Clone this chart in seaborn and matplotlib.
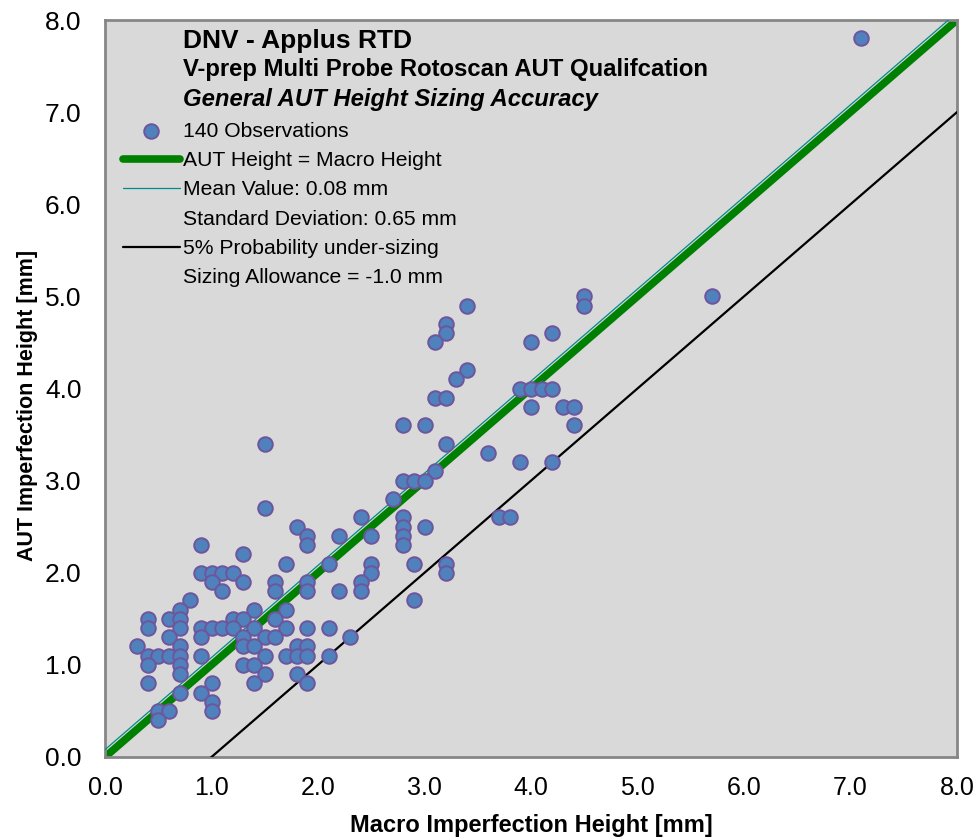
import numpy as np
import pandas as pd
import matplotlib
matplotlib.use("Agg")
import matplotlib.pyplot as plt
from matplotlib import font_manager
from matplotlib.lines import Line2D
import seaborn as sns

# Measured heights [mm]: macro section vs. AUT sizing
macro_height = [
    7.1, 5.7, 4.5, 4.5, 3.4, 3.2, 3.2, 3.1, 4.2, 4.0,
    3.4, 3.3, 3.1, 3.2, 3.9, 4.0, 4.1, 4.2, 4.0, 4.3,
    4.4, 4.4, 2.8, 3.0, 3.2, 3.6, 3.9, 4.2, 3.1, 2.8,
    2.9, 3.0, 2.7, 2.4, 2.8, 2.8, 2.8, 2.8, 3.0, 2.2,
    2.5, 2.1, 2.5, 2.5, 2.9, 3.2, 3.2, 2.4, 2.4, 2.2,
    2.9, 2.1, 2.3, 2.1, 3.7, 3.8,
    1.5, 1.5, 1.8, 1.9, 1.9, 0.9, 1.3, 1.7, 0.9, 1.0,
    1.1, 1.2, 1.0, 1.3, 1.1, 1.6, 1.6, 1.9, 1.9, 0.8,
    0.7, 1.4, 1.7, 0.4, 0.6, 0.7, 1.2, 1.3, 1.6, 0.4,
    0.7, 0.9, 1.0, 1.1, 1.2, 1.4, 1.7, 1.9, 0.6, 0.9,
    1.3, 1.5, 1.6, 0.3, 0.7, 1.3, 1.4, 1.8, 1.9, 0.4,
    0.5, 0.6, 0.7, 0.9, 1.5, 1.7, 1.8, 1.9, 0.4, 0.7,
    1.3, 1.4, 0.7, 1.5, 1.8, 0.4, 1.0, 1.4, 1.9, 0.7,
    0.9, 1.0, 1.0, 0.5, 0.6, 0.5,
]
aut_height = [
    7.8, 5.0, 5.0, 4.9, 4.9, 4.7, 4.6, 4.5, 4.6, 4.5,
    4.2, 4.1, 3.9, 3.9, 4.0, 4.0, 4.0, 4.0, 3.8, 3.8,
    3.8, 3.6, 3.6, 3.6, 3.4, 3.3, 3.2, 3.2, 3.1, 3.0,
    3.0, 3.0, 2.8, 2.6, 2.6, 2.5, 2.4, 2.3, 2.5, 2.4,
    2.4, 2.1, 2.1, 2.0, 2.1, 2.1, 2.0, 1.9, 1.8, 1.8,
    1.7, 1.4, 1.3, 1.1, 2.6, 2.6,
    3.4, 2.7, 2.5, 2.4, 2.3, 2.3, 2.2, 2.1, 2.0, 2.0,
    2.0, 2.0, 1.9, 1.9, 1.8, 1.9, 1.8, 1.9, 1.8, 1.7,
    1.6, 1.6, 1.6, 1.5, 1.5, 1.5, 1.5, 1.5, 1.5, 1.4,
    1.4, 1.4, 1.4, 1.4, 1.4, 1.4, 1.4, 1.4, 1.3, 1.3,
    1.3, 1.3, 1.3, 1.2, 1.2, 1.2, 1.2, 1.2, 1.2, 1.1,
    1.1, 1.1, 1.1, 1.1, 1.1, 1.1, 1.1, 1.1, 1.0, 1.0,
    1.0, 1.0, 0.9, 0.9, 0.9, 0.8, 0.8, 0.8, 0.8, 0.7,
    0.7, 0.6, 0.5, 0.5, 0.5, 0.4,
]

n_observations = 140
mean_offset = 0.08
std_dev = 0.65
sizing_allowance = -1.0
axis_ticks = [0.0, 1.0, 2.0, 3.0, 4.0, 5.0, 6.0, 7.0, 8.0]
line_x = [0.0, 8.0]

title_lines = [
    "DNV - Applus RTD",
    "V-prep Multi Probe Rotoscan AUT Qualifcation",
    "General AUT Height Sizing Accuracy",
]

sns.set_style("white")

installed = {f.name for f in font_manager.fontManager.ttflist}
base_font = "Liberation Sans" if "Liberation Sans" in installed else "DejaVu Sans"
plt.rcParams["font.family"] = [base_font, "DejaVu Sans"]
for key in ("text.color", "axes.labelcolor", "xtick.labelcolor", "ytick.labelcolor"):
    plt.rcParams[key] = "black"

fig = plt.figure(figsize=(9.76, 8.4), dpi=100)
ax = fig.add_axes([105 / 976, 1 - 757 / 840, 852 / 976, 737 / 840])
ax.set_facecolor("#D9D9D9")

df = pd.DataFrame({"macro": macro_height, "aut": aut_height})
lines = pd.DataFrame({"x": line_x})
lines["identity"] = lines["x"]
lines["mean"] = lines["x"] + mean_offset
lines["allowance"] = lines["x"] + sizing_allowance

sns.lineplot(data=lines, x="x", y="identity", ax=ax, color="#008000",
             linewidth=5.5, solid_capstyle="butt", zorder=2,
             label="AUT Height = Macro Height")
sns.lineplot(data=lines, x="x", y="mean", ax=ax, color="#008B8B",
             linewidth=0.9, zorder=3, label=f"Mean Value: {mean_offset:.2f} mm")
sns.lineplot(data=lines, x="x", y="allowance", ax=ax, color="black",
             linewidth=1.6, zorder=3, label="5% Probability under-sizing")
sns.scatterplot(data=df, x="macro", y="aut", ax=ax, s=110,
                color="#4F81BD", edgecolor="#6E559C", linewidth=1.4,
                zorder=5, label=f"{n_observations} Observations")

ax.set_xlim(0, 8)
ax.set_ylim(0, 8)
ax.set_xticks(axis_ticks)
ax.set_yticks(axis_ticks)
ax.set_xticklabels([f"{t:.1f}" for t in axis_ticks], fontsize=18)
ax.set_yticklabels([f"{t:.1f}" for t in axis_ticks], fontsize=19)
ax.tick_params(axis="both", direction="out", length=7, width=1.2, color="#868686")
ax.tick_params(axis="x", pad=7)
ax.tick_params(axis="y", pad=10)
for sp in ax.spines.values():
    sp.set_color("#868686")
    sp.set_linewidth(2)

ax.set_xlabel("Macro Imperfection Height [mm]", fontsize=17, fontweight="bold",
              va="center")
ax.set_ylabel("AUT Imperfection Height [mm]", fontsize=15.5, fontweight="bold",
              va="center")
ax.xaxis.set_label_coords(0.5, -0.0936)
ax.yaxis.set_label_coords(-0.0904, 0.4776)

# Title block inside the plot area
ax.text(0.0915, 0.9715, title_lines[0], transform=ax.transAxes, fontsize=19,
        fontweight="bold", va="center", ha="left")
ax.text(0.0915, 0.9322, title_lines[1], transform=ax.transAxes, fontsize=17.2,
        fontweight="bold", va="center", ha="left")
ax.text(0.0915, 0.8928, title_lines[2], transform=ax.transAxes, fontsize=17.2,
        fontweight="bold", fontstyle="italic", va="center", ha="left")

handles, labels = ax.get_legend_handles_labels()
by_label = dict(zip(labels, handles))
blank = Line2D([], [], linestyle="none")
order = [
    (by_label[f"{n_observations} Observations"], f"{n_observations} Observations"),
    (by_label["AUT Height = Macro Height"], "AUT Height = Macro Height"),
    (by_label[f"Mean Value: {mean_offset:.2f} mm"], f"Mean Value: {mean_offset:.2f} mm"),
    (blank, f"Standard Deviation: {std_dev:.2f} mm"),
    (by_label["5% Probability under-sizing"], "5% Probability under-sizing"),
    (blank, f"Sizing Allowance = {sizing_allowance:.1f} mm"),
]
leg = ax.legend([h for h, _ in order], [l for _, l in order], loc="upper left",
                bbox_to_anchor=(0.0211, 0.862), frameon=False, fontsize=15.2,
                handlelength=2.7, handletextpad=0.14, labelspacing=0.49,
                borderpad=0, borderaxespad=0, scatterpoints=1)
for h in leg.legend_handles:
    if isinstance(h, Line2D):
        h.set_solid_capstyle("round")

fig.savefig("out.png", dpi=100)
